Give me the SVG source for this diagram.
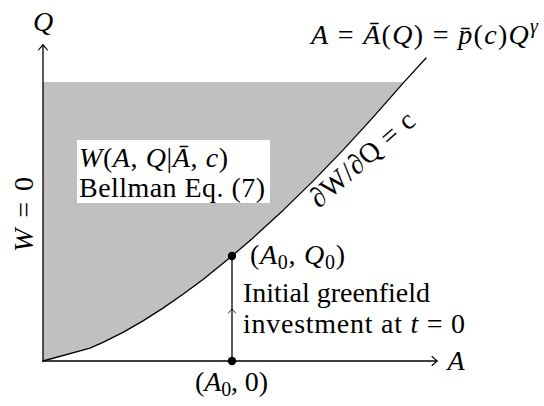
<svg xmlns="http://www.w3.org/2000/svg" width="544" height="406" viewBox="0 0 544 406">
<style>
.ln{fill:none;stroke:#000;stroke-width:1.3;stroke-linejoin:round;stroke-linecap:round}
.ah{fill:none;stroke:#000;stroke-width:1.1;stroke-linecap:round}
.t{font-family:"Liberation Serif","Times New Roman",serif;font-size:28px;fill:#000}
.i{font-style:italic}
.sub{font-size:20px}
.dot{fill:#000}
</style>
<defs>
<path id="tip" class="ah" d="M-5,-4.5 Q-1.2,-1.2 0,0 Q-1.2,1.2 -5,4.5"/>
</defs>
<rect width="544" height="406" fill="#fff"/>
<g id="region">
<polygon fill="#c0c0c0" points="43,361 90,348.2 103,342.4 123,332.4 143,320.9 163,308.1 183,294.3 203,279.4 232,256 253,237.9 283,210.4 313,181.1 343,150.1 373,117.4 404,82 43,82"/>
</g>
<g id="axes">
<line class="ln" x1="43" y1="361" x2="437" y2="361"/>
<use href="#tip" transform="translate(437,361)"/>
<line class="ln" x1="43" y1="361" x2="43" y2="45"/>
<use href="#tip" transform="translate(43,45) rotate(-90)"/>
</g>
<g id="curve">
<polyline class="ln" points="43,361 90,348.2 103,342.4 123,332.4 143,320.9 163,308.1 183,294.3 203,279.4 232,256 253,237.9 283,210.4 313,181.1 343,150.1 373,117.4 404,82.1 426,58"/>
</g>
<g id="box">
<rect x="77" y="140" width="193" height="63" fill="#fff"/>
<text class="t" x="79" y="167" textLength="149" lengthAdjust="spacing"><tspan class="i">W</tspan>(<tspan class="i">A</tspan>, <tspan class="i">Q</tspan>|<tspan class="i">Ā</tspan>, <tspan class="i">c</tspan>)</text>
<text class="t" x="79" y="197" textLength="186" lengthAdjust="spacing">Bellman Eq.  (7)</text>
</g>
<g id="connectors">
<line class="ln" x1="232" y1="361" x2="232" y2="256"/>
<use href="#tip" transform="translate(232,309) rotate(-90) scale(0.8)"/>
</g>
<g id="p0">
<circle class="dot" cx="232" cy="256" r="4.2"/>
<text class="t" x="250" y="264" textLength="95" lengthAdjust="spacing"><tspan>(</tspan><tspan class="i">A</tspan><tspan class="sub" dy="5">0</tspan><tspan dy="-5">, </tspan><tspan class="i">Q</tspan><tspan class="sub" dy="5">0</tspan><tspan dy="-5">)</tspan></text>
</g>
<g id="p1">
<circle class="dot" cx="232" cy="361" r="4.2"/>
<text class="t" x="195" y="391" textLength="73" lengthAdjust="spacing"><tspan>(</tspan><tspan class="i">A</tspan><tspan class="sub" dy="5">0</tspan><tspan dy="-5">, 0)</tspan></text>
</g>
<g id="labels">
<text class="t i" x="43" y="31" text-anchor="middle">Q</text>
<text class="t i" x="456" y="370" text-anchor="middle">A</text>
<text class="t" transform="translate(33,214.5) rotate(-90)" text-anchor="middle" textLength="75" lengthAdjust="spacing"><tspan class="i">W</tspan> = 0</text>
<text class="t" x="311" y="44" textLength="227" lengthAdjust="spacing"><tspan class="i">A</tspan> = <tspan class="i">Ā</tspan>(<tspan class="i">Q</tspan>) = <tspan class="i">p̄</tspan>(<tspan class="i">c</tspan>)<tspan class="i">Q</tspan><tspan class="i sub" dy="-11">γ</tspan></text>
<text class="t" transform="translate(368,166) rotate(-41)" text-anchor="middle" textLength="130" lengthAdjust="spacing">∂W/∂Q = c</text>
<text class="t" x="243" y="302" textLength="187" lengthAdjust="spacing">Initial greenfield</text>
<text class="t" x="243" y="333" textLength="222" lengthAdjust="spacing">investment at <tspan class="i">t</tspan> = 0</text>
</g>
</svg>
